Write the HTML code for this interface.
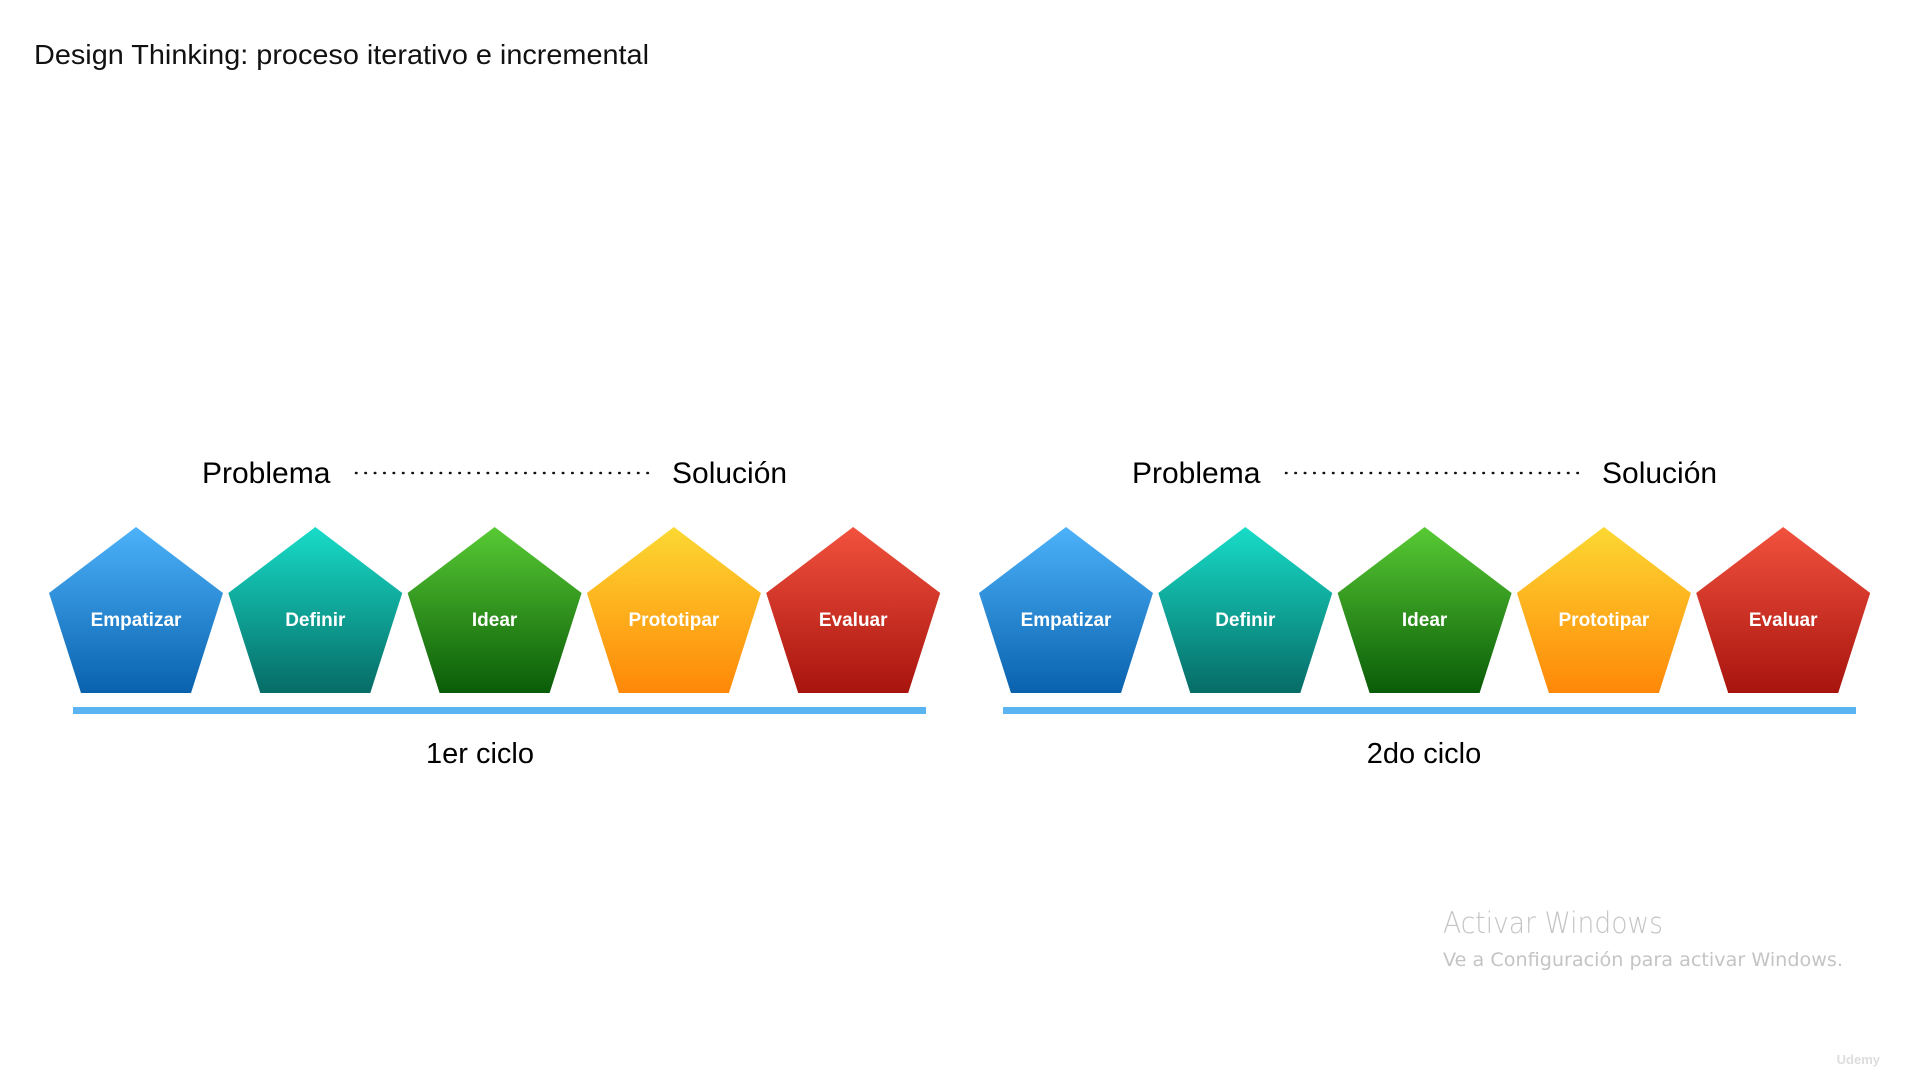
<!DOCTYPE html>
<html><head><meta charset="utf-8"><style>
body{margin:0;background:#fff;width:1920px;height:1080px;overflow:hidden;font-family:"Liberation Sans",sans-serif}
</style></head><body>
<svg id="c" width="1920" height="1080" xmlns="http://www.w3.org/2000/svg">
<defs>
<linearGradient id="g0" x1="0" y1="0" x2="0" y2="1"><stop offset="0" stop-color="#4cb2fa"/><stop offset="1" stop-color="#0a62ae"/></linearGradient>
<linearGradient id="g1" x1="0" y1="0" x2="0" y2="1"><stop offset="0" stop-color="#18dcc8"/><stop offset="1" stop-color="#066c66"/></linearGradient>
<linearGradient id="g2" x1="0" y1="0" x2="0" y2="1"><stop offset="0" stop-color="#58ca34"/><stop offset="1" stop-color="#0a5c08"/></linearGradient>
<linearGradient id="g3" x1="0" y1="0" x2="0" y2="1"><stop offset="0" stop-color="#fcd832"/><stop offset="1" stop-color="#ff8808"/></linearGradient>
<linearGradient id="g4" x1="0" y1="0" x2="0" y2="1"><stop offset="0" stop-color="#f2523e"/><stop offset="1" stop-color="#a8140e"/></linearGradient>
</defs>
<text x="34" y="64" font-size="28" textLength="615" lengthAdjust="spacingAndGlyphs" fill="#111">Design Thinking: proceso iterativo e incremental</text>
<text x="1443" y="933" font-size="29" textLength="220" lengthAdjust="spacingAndGlyphs" fill="#c4c4c4" font-family="DejaVu Sans, sans-serif" font-weight="300">Activar Windows</text>
<text x="1443" y="966" font-size="19" textLength="400" lengthAdjust="spacingAndGlyphs" fill="#c4c4c4" font-family="DejaVu Sans, sans-serif">Ve a Configuración para activar Windows.</text>
<text x="1880" y="1064" font-size="13" font-weight="bold" fill="#ddd" text-anchor="end">Udemy</text>
</svg>
<script>
const stages=["Empatizar","Definir","Idear","Prototipar","Evaluar"];
const cycles=["1er ciclo","2do ciclo"];
const svg=document.getElementById('c');
const NS="http://www.w3.org/2000/svg";
function mk(t,a,txt){const e=document.createElementNS(NS,t);for(const k in a)e.setAttribute(k,a[k]);if(txt)e.textContent=txt;svg.appendChild(e);return e;}
cycles.forEach((cy,ci)=>{
  const ox=ci*930;
  const p=mk('text',{x:202+ox,y:483,'font-size':30,fill:'#000'},'Problema');
  
  
  const d=mk('line',{x1:356+ox,y1:473,x2:655+ox,y2:473,stroke:'#111','stroke-width':2.5,'stroke-dasharray':'0.5 8.9','stroke-linecap':'round'});
  
  
  const s=mk('text',{x:672+ox,y:483,'font-size':30,fill:'#000'},'Solución');
  
  
  stages.forEach((st,i)=>{
    const x0=49+ox+i*179.3;
    const pts=[[x0+87,527],[x0+174,593],[x0+142,693],[x0+32,693],[x0,593]].map(q=>q.join(',')).join(' ');
    const pg=mk('polygon',{points:pts,fill:'url(#g'+i+')'});
    
    
    const t=mk('text',{x:x0+87,y:626,'font-size':19,'font-weight':'bold',fill:'#fff','text-anchor':'middle'},st);
    
    
  });
  const l=mk('rect',{x:73+ox,y:707,width:853,height:7,fill:'#5ab4f2'});
  
  
  const c=mk('text',{x:480+ci*944,y:763,'font-size':29,fill:'#000','text-anchor':'middle'},cy);
  
  
});
</script>
</body></html>
